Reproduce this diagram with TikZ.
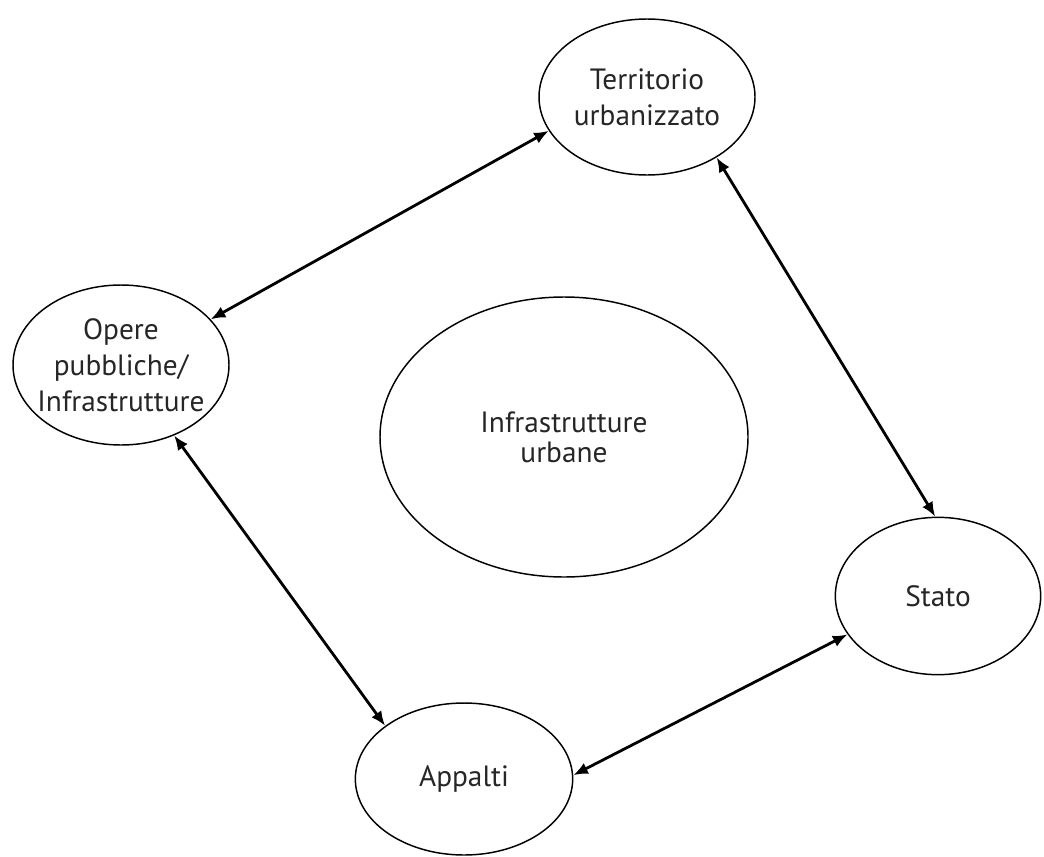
\documentclass[tikz,border=0pt]{standalone}
\usepackage{fontspec}
\setmainfont{PT Sans}
\usepackage{tikz}
\usetikzlibrary{arrows.meta,shapes.geometric}

\begin{document}
\begin{tikzpicture}[x=0.75pt, y=-0.75pt, every node/.style={font=\fontsize{22}{27}\selectfont, text=black!85}, bubble/.style={draw=black, ellipse, line width=1.1pt, inner xsep=-25pt, inner ysep=0pt, align=center}, arr/.style={{Latex[length=11pt,width=9pt]}-{Latex[length=11pt,width=9pt]}, line width=2.1pt}]
\useasboundingbox (0,0) rectangle (1044,856);
\node[bubble, minimum width=162pt, minimum height=117pt] (terr) at (647,97) {Territorio\\ urbanizzato};
\node[bubble, minimum width=162pt, minimum height=120pt] (opere) at (121,365) {Opere\\ pubbliche/\\ Infrastrutture};
\node[bubble, minimum width=276pt, minimum height=210pt, font=\fontsize{22}{22.5}\selectfont] (infra) at (564,437) {Infrastrutture\\ urbane};
\node[bubble, minimum width=154pt, minimum height=118pt] (stato) at (938,596) {Stato};
\node[bubble, minimum width=163pt, minimum height=114pt] (appalti) at (464,779) {Appalti};
\draw[arr] (opere.27) -- (terr.199); \draw[arr] (terr.-41) -- (stato.92); \draw[arr] (stato.203) -- (appalti.2); \draw[arr] (appalti.146) -- (opere.-53);
\end{tikzpicture}
\end{document}
